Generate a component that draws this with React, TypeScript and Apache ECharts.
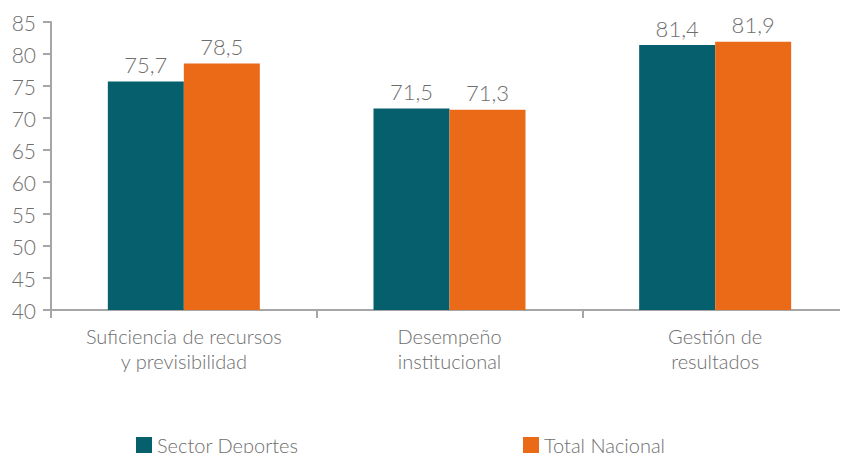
import React, { useEffect, useRef } from "react";
import * as echarts from "echarts";

const categories = ["Suficiencia de recursos\ny previsibilidad", "Desempeño\ninstitucional", "Gestión de\nresultados"];
const sectorDeportes = [75.7, 71.5, 81.4];
const totalNacional = [78.5, 71.3, 81.9];
const seriesNames = ["Sector Deportes", "Total Nacional"];

const FONT = "Lato, 'Open Sans', sans-serif";
const TEXT = "#6e6e6e";
const AXIS = "#a6a6a6";

export default function App() {
  const ref = useRef<HTMLDivElement>(null);
  useEffect(() => {
    const chart = echarts.init(ref.current!, null, { renderer: "svg" });
    const label = {
      show: true,
      position: "top",
      distance: 6,
      color: TEXT,
      fontFamily: FONT,
      fontWeight: 300,
      fontSize: 22,
      formatter: (p: any) => String(p.value).replace(".", ","),
    };
    const legendText = { color: TEXT, fontSize: 20, fontWeight: 300, fontFamily: FONT };
    chart.setOption({
      animation: false,
      textStyle: { fontFamily: FONT },
      grid: { left: 51, top: 22, width: 801, height: 288, containLabel: false },
      legend: [
        {
          data: [seriesNames[0]],
          left: 131,
          top: 430,
          itemWidth: 16,
          itemHeight: 16,
          itemGap: 10,
          icon: "rect",
          textStyle: legendText,
        },
        {
          data: [seriesNames[1]],
          left: 518,
          top: 430,
          itemWidth: 16,
          itemHeight: 16,
          icon: "rect",
          textStyle: legendText,
        },
      ],
      xAxis: {
        type: "category",
        data: categories,
        axisLine: { lineStyle: { color: AXIS, width: 2 } },
        axisTick: { show: true, length: 8, lineStyle: { color: AXIS, width: 2 } },
        axisLabel: {
          color: TEXT,
          fontSize: 20,
          fontWeight: 300,
          fontFamily: FONT,
          lineHeight: 25,
          margin: 13,
          interval: 0,
        },
      },
      yAxis: {
        type: "value",
        min: 40,
        max: 85,
        interval: 5,
        splitLine: { show: false },
        axisLine: { show: true, lineStyle: { color: AXIS, width: 2 } },
        axisTick: { show: true, length: 8, lineStyle: { color: AXIS, width: 2 } },
        axisLabel: {
          color: TEXT,
          fontSize: 21,
          fontWeight: 300,
          fontFamily: FONT,
          margin: 15,
        },
      },
      series: [
        {
          name: seriesNames[0],
          type: "bar",
          data: sectorDeportes,
          barWidth: 76,
          barGap: "0%",
          itemStyle: { color: "#055f6c" },
          label,
        },
        {
          name: seriesNames[1],
          type: "bar",
          data: totalNacional,
          barWidth: 76,
          barGap: "0%",
          itemStyle: { color: "#ea6a18" },
          label,
        },
      ],
    });
    return () => chart.dispose();
  }, []);
  return <div ref={ref} style={{ width: 848, height: 461, margin: -8 }} />;
}
